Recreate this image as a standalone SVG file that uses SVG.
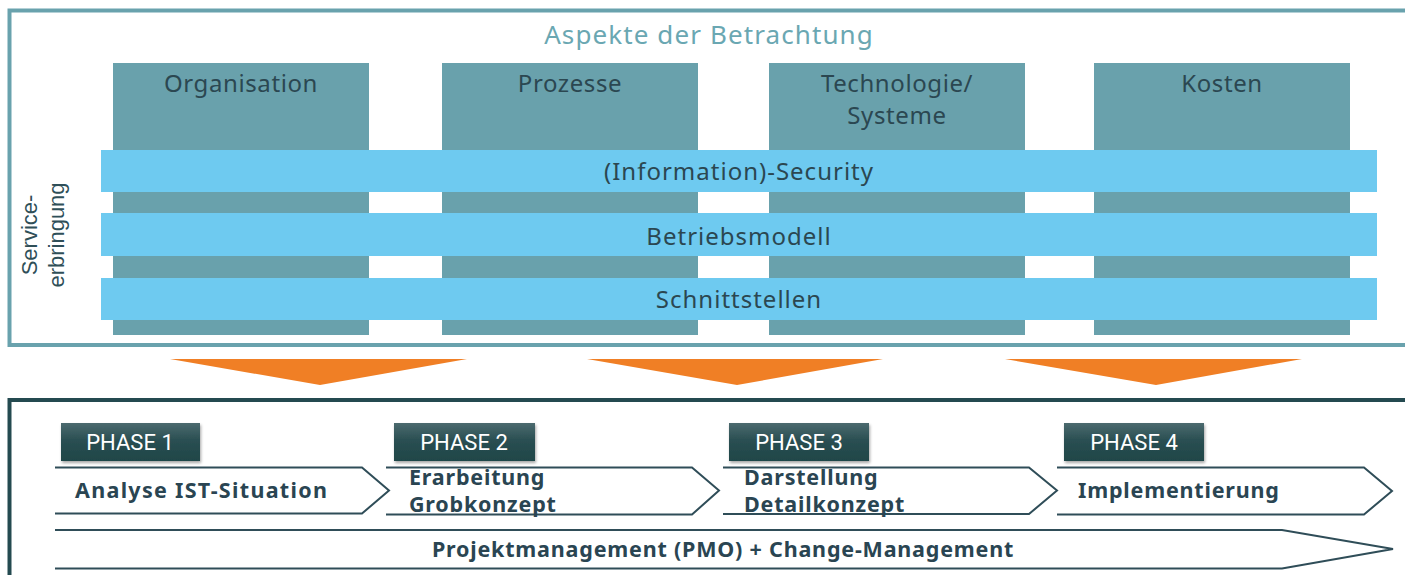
<svg xmlns="http://www.w3.org/2000/svg" width="1405" height="575" viewBox="0 0 1405 575">
  <style>
    .frame-top { fill: none; stroke: #69a2ad; stroke-width: 4; }
    .frame-bottom { fill: none; stroke: #244a50; stroke-width: 4; }
    .col { fill: #69a1ac; }
    .band { fill: #6ecaf0; }
    .title { font-family: "Noto Sans", "Liberation Sans", sans-serif; font-size: 26px; letter-spacing: 1.1px; fill: #6aa7b2; text-anchor: middle; }
    .col-label { font-family: "Noto Sans", "Liberation Sans", sans-serif; font-size: 24px; letter-spacing: 0.6px; fill: #2b4751; text-anchor: middle; }
    .band-label { font-family: "Noto Sans", "Liberation Sans", sans-serif; font-size: 24px; letter-spacing: 1px; fill: #2b4751; text-anchor: middle; }
    .side-label { font-family: "Liberation Sans", Arial, sans-serif; font-size: 22px; fill: #2f4f58; text-anchor: middle; }
    .arrow-down { fill: #f07f25; }
    .phase-box { fill: url(#phaseGrad); filter: url(#shadow); }
    .phase-label { font-family: Roboto, "Liberation Sans", Arial, sans-serif; font-size: 22px; fill: #ffffff; text-anchor: middle; }
    .chevron { fill: none; stroke: #2f4d58; stroke-width: 2; stroke-linejoin: miter; }
    .step { font-family: "Noto Sans", "Liberation Sans", sans-serif; font-weight: bold; font-size: 21.5px; letter-spacing: 0.8px; fill: #2a4552; }
    .step-wide { letter-spacing: 1.3px; }
  </style>
  <defs>
    <linearGradient id="phaseGrad" x1="0" y1="0" x2="0" y2="1">
      <stop offset="0" stop-color="#4c6a6f"/>
      <stop offset="0.45" stop-color="#2a4f52"/>
      <stop offset="1" stop-color="#1f4648"/>
    </linearGradient>
    <filter id="shadow" x="-10%" y="-20%" width="125%" height="150%">
      <feDropShadow dx="1" dy="2" stdDeviation="1.5" flood-color="#000000" flood-opacity="0.35"/>
    </filter>
  </defs>

  <!-- Upper panel: aspects of consideration -->
  <g id="aspects-frame">
    <rect class="frame-top" x="9.5" y="10.5" width="1402" height="334.5"/>
    <text class="title" x="709" y="44">Aspekte der Betrachtung</text>
  </g>

  <g id="col-organisation">
    <rect class="col" x="113" y="63" width="256" height="272"/>
    <text class="col-label" x="241" y="92">Organisation</text>
  </g>
  <g id="col-prozesse">
    <rect class="col" x="442" y="63" width="256" height="272"/>
    <text class="col-label" x="570" y="92">Prozesse</text>
  </g>
  <g id="col-technologie">
    <rect class="col" x="769" y="63" width="256" height="272"/>
    <text class="col-label" x="897" y="92">Technologie/</text>
    <text class="col-label" x="897" y="124">Systeme</text>
  </g>
  <g id="col-kosten">
    <rect class="col" x="1094" y="63" width="256" height="272"/>
    <text class="col-label" x="1222" y="92">Kosten</text>
  </g>

  <g id="band-security">
    <rect class="band" x="101" y="150" width="1276" height="42"/>
    <text class="band-label" x="739" y="180">(Information)-Security</text>
  </g>
  <g id="band-betriebsmodell">
    <rect class="band" x="101" y="213" width="1276" height="43"/>
    <text class="band-label" x="739" y="245">Betriebsmodell</text>
  </g>
  <g id="band-schnittstellen">
    <rect class="band" x="101" y="278" width="1276" height="42"/>
    <text class="band-label" x="739" y="308">Schnittstellen</text>
  </g>

  <g id="service-label">
    <text class="side-label" transform="translate(37 235) rotate(-90)">Service-</text>
    <text class="side-label" transform="translate(64 235) rotate(-90)">erbringung</text>
  </g>

  <!-- Transition arrows between the panels -->
  <g id="connectors">
    <polygon class="arrow-down" points="170,359 467,359 320,385"/>
    <polygon class="arrow-down" points="587,359 883,359 737,385"/>
    <polygon class="arrow-down" points="1005,359 1302,359 1156,385"/>
  </g>

  <!-- Lower panel: project phases -->
  <g id="phases-frame">
    <rect class="frame-bottom" x="9.5" y="400" width="1402" height="200"/>
  </g>

  <g id="phase-1">
    <rect class="phase-box" x="61" y="423" width="139" height="38"/>
    <text class="phase-label" x="130" y="450">PHASE 1</text>
    <polyline class="chevron" points="55,467.5 362,467.5 389,490.5 362,513.5 55,513.5"/>
    <text class="step step-wide" x="75" y="498">Analyse IST-Situation</text>
  </g>
  <g id="phase-2">
    <rect class="phase-box" x="394" y="423" width="141" height="38"/>
    <text class="phase-label" x="464" y="450">PHASE 2</text>
    <polyline class="chevron" points="386,467.5 692,467.5 719,490.5 692,514.5 386,514.5"/>
    <text class="step" x="409" y="485">Erarbeitung</text>
    <text class="step" x="409" y="512">Grobkonzept</text>
  </g>
  <g id="phase-3">
    <rect class="phase-box" x="729" y="423" width="140" height="38"/>
    <text class="phase-label" x="799" y="450">PHASE 3</text>
    <polyline class="chevron" points="723,467.5 1029,467.5 1057,490.5 1029,514 723,514"/>
    <text class="step" x="744" y="485">Darstellung</text>
    <text class="step" x="744" y="512">Detailkonzept</text>
  </g>
  <g id="phase-4">
    <rect class="phase-box" x="1064" y="423" width="140" height="38"/>
    <text class="phase-label" x="1134" y="450">PHASE 4</text>
    <polyline class="chevron" points="1057,467.5 1364,467.5 1392,491 1364,514.5 1057,514.5"/>
    <text class="step" x="1078" y="498">Implementierung</text>
  </g>

  <g id="pmo">
    <polyline class="chevron" points="55,530 1282,530 1393,549 1282,568.5 55,568.5"/>
    <text class="step" x="723" y="557" text-anchor="middle">Projektmanagement (PMO) + Change-Management</text>
  </g>
</svg>
